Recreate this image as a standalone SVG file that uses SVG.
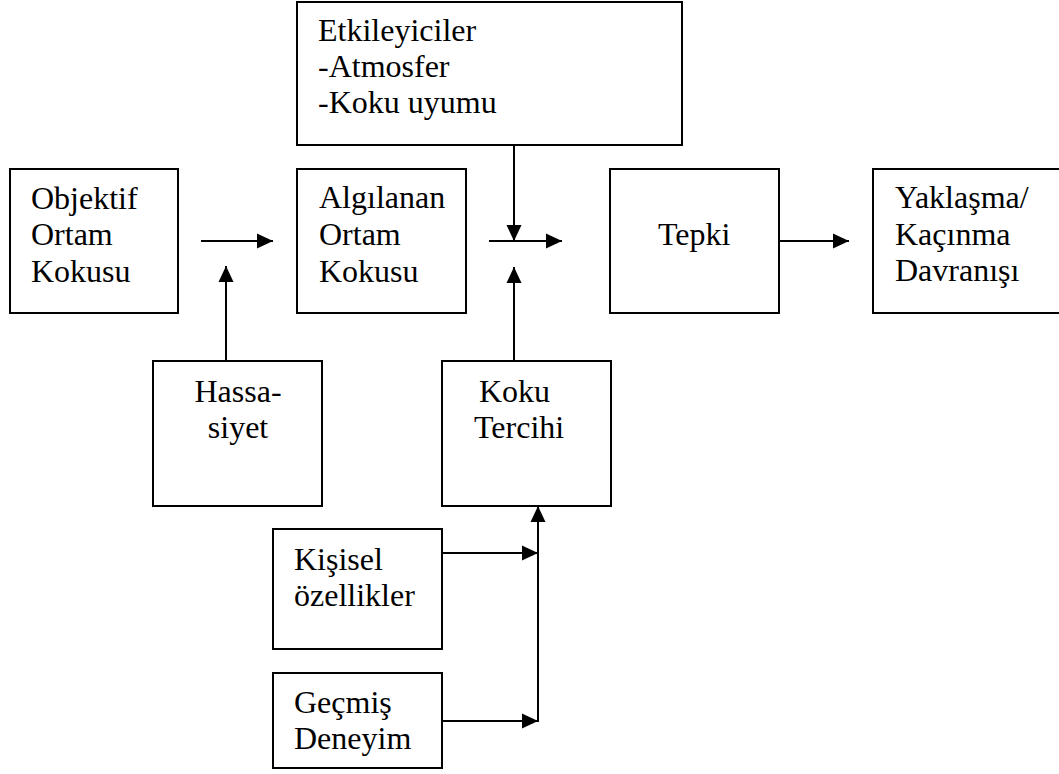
<svg xmlns="http://www.w3.org/2000/svg" width="1059" height="774" viewBox="0 0 1059 774">
<style>
.box{fill:#fff;stroke:#000;stroke-width:2}
.t{font-family:"Liberation Serif",serif;font-size:32px;fill:#000}
.c{fill:none;stroke:#000;stroke-width:2}
</style>
<defs>
<marker id="ah" markerUnits="userSpaceOnUse" markerWidth="18" markerHeight="18" viewBox="0 0 18 18" refX="16" refY="9" orient="auto">
<path d="M0,1.5 L16,9 L0,16.5 Z" fill="#000"/>
</marker>
</defs>
<rect width="1059" height="774" fill="#fff"/>
<g id="objektif"><rect class="box" x="10" y="169" width="168" height="144"/>
<text class="t" x="31" y="209" font-family="Liberation Serif">Objektif</text><text class="t" x="31" y="245" font-family="Liberation Serif">Ortam</text><text class="t" x="31" y="282" font-family="Liberation Serif">Kokusu</text></g>
<g id="etkileyiciler"><rect class="box" x="297" y="2" width="385" height="143"/>
<text class="t" x="318" y="41">Etkileyiciler</text><text class="t" x="318" y="77">-Atmosfer</text><text class="t" x="318" y="113">-Koku uyumu</text></g>
<g id="algilanan"><rect class="box" x="297" y="169" width="169" height="144"/>
<text class="t" x="319" y="208">Algılanan</text><text class="t" x="319" y="245">Ortam</text><text class="t" x="319" y="282">Kokusu</text></g>
<g id="tepki"><rect class="box" x="610" y="169" width="169" height="144"/>
<text class="t" x="658" y="245">Tepki</text></g>
<g id="yaklasma"><rect class="box" x="873" y="169" width="200" height="144"/>
<text class="t" x="895" y="208">Yaklaşma/</text><text class="t" x="895" y="245">Kaçınma</text><text class="t" x="895" y="281">Davranışı</text></g>
<g id="hassasiyet"><rect class="box" x="153" y="361" width="169" height="145"/>
<text class="t" x="238" y="402" text-anchor="middle">Hassa-</text><text class="t" x="238" y="438" text-anchor="middle">siyet</text></g>
<g id="kokutercihi"><rect class="box" x="442" y="361" width="169" height="145"/>
<text class="t" x="479" y="402">Koku</text><text class="t" x="474" y="438">Tercihi</text></g>
<g id="kisisel"><rect class="box" x="273" y="529" width="169" height="120"/>
<text class="t" x="294" y="570">Kişisel</text><text class="t" x="294" y="606">özellikler</text></g>
<g id="gecmis"><rect class="box" x="273" y="673" width="169" height="95"/>
<text class="t" x="294" y="713">Geçmiş</text><text class="t" x="294" y="749">Deneyim</text></g>
<g id="connectors">
<line class="c" x1="201" y1="241" x2="273" y2="241" marker-end="url(#ah)"/>
<line class="c" x1="226" y1="361" x2="226" y2="266" marker-end="url(#ah)"/>
<line class="c" x1="489" y1="241" x2="562" y2="241" marker-end="url(#ah)"/>
<line class="c" x1="514" y1="145" x2="514" y2="241" marker-end="url(#ah)"/>
<line class="c" x1="514" y1="361" x2="514" y2="267" marker-end="url(#ah)"/>
<line class="c" x1="779" y1="241" x2="849" y2="241" marker-end="url(#ah)"/>
<line class="c" x1="442" y1="553" x2="538" y2="553" marker-end="url(#ah)"/>
<line class="c" x1="442" y1="721" x2="538" y2="721" marker-end="url(#ah)"/>
<line class="c" x1="538" y1="722" x2="538" y2="506" marker-end="url(#ah)"/>
</g>
</svg>
